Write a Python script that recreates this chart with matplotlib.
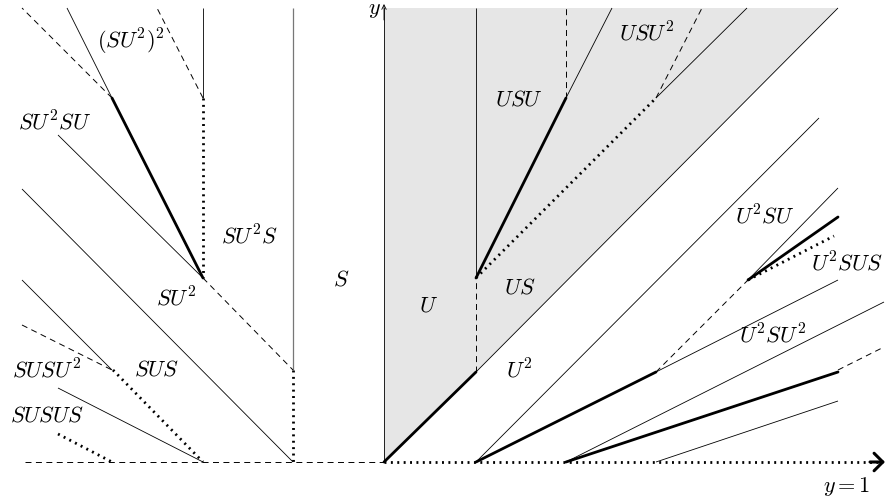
import matplotlib
matplotlib.use("Agg")
import matplotlib.pyplot as plt
from matplotlib.patches import Polygon

plt.rcParams['mathtext.fontset'] = 'cm'
plt.rcParams['lines.scale_dashes'] = False

# ---- data (diagram coordinates, pixel-like units, y downward) ----
thin_segments = [
    # right half
    ((476, 278), (476, 8)),
    ((566, 98), (612, 8)),
    ((656, 98), (747, 8)),
    ((476, 372), (838, 8)),
    ((476, 462), (819, 118)),
    ((748, 280), (838, 188)),
    ((656, 372), (838, 280)),
    ((566, 462), (884, 302)),
    ((656, 462), (838, 401)),
    # left half
    ((22, 189), (293, 462)),
    ((203, 98), (203, 8)),
    ((112, 98), (67, 8)),
    ((58, 135), (203, 278)),
    ((22, 280), (112, 370)),
    ((58, 388), (203, 462)),
]
gray_segments = [
    ((293, 370), (293, 8)),
]
thick_segments = [
    ((384, 462), (476, 372)),
    ((476, 278), (566, 98)),
    ((748, 280), (838, 217)),
    ((476, 462), (656, 372)),
    ((566, 462), (838, 372)),
    ((112, 98), (203, 278)),
]
dashed_segments = [
    ((476, 372), (476, 278)),
    ((566, 98), (566, 8)),
    ((656, 98), (702, 8)),
    ((656, 372), (748, 280)),
    ((838, 370), (884, 347)),
    ((203, 278), (293, 370)),
    ((203, 98), (157, 8)),
    ((112, 98), (22, 8)),
    ((22, 325), (112, 370)),
    ((25, 462), (384, 462)),
]
dotted_segments = [
    ((476, 278), (656, 98)),
    ((748, 280), (834, 236)),
    ((293, 370), (293, 462)),
    ((203, 98), (203, 278)),
    ((113, 370), (203, 462)),
    ((58, 434), (112, 462)),
    ((384, 462), (878, 462)),
]
shaded_region = [(384, 462), (384, 8), (838, 8), (476, 372)]

labels = [
    ("$y$", 374, 10),
    ("$U$", 429, 305),
    ("$US$", 520, 287),
    ("$U^2$", 519, 370),
    ("$USU$", 519, 99),
    ("$USU^2$", 647, 33),
    ("$U^2SU$", 765, 216),
    ("$U^2SUS$", 847, 263),
    ("$U^2SU^2$", 773, 335),
    ("$y=1$", 847, 486),
    ("$(SU^2)^2$", 131, 42),
    ("$SU^2SU$", 55, 122),
    ("$SU^2S$", 249, 236),
    ("$S$", 341, 280),
    ("$SU^2$", 176, 298),
    ("$SUS$", 157, 370),
    ("$SUSU^2$", 47, 370),
    ("$SUSUS$", 47, 416),
]

# ---- drawing ----
fig = plt.figure(figsize=(8.86, 5.04), dpi=100)
ax = fig.add_axes([0, 0, 1, 1])
ax.set_xlim(0, 886)
ax.set_ylim(504, 0)
ax.axis('off')

ax.add_patch(Polygon(shaded_region, closed=True, facecolor='#e6e6e6',
                     edgecolor='none', zorder=0))

def draw(segs, **kw):
    for (x0, y0), (x1, y1) in segs:
        ax.plot([x0, x1], [y0, y1], **kw)

draw(thin_segments, color='black', lw=0.6, solid_capstyle='butt', zorder=2)
draw(gray_segments, color='#777777', lw=0.9, solid_capstyle='butt', zorder=2)
draw(thick_segments, color='black', lw=2.0, solid_capstyle='round', zorder=3)
draw(dashed_segments, color='black', lw=0.7, linestyle=(0, (4.3, 3.2)), zorder=2)
draw(dotted_segments, color='black', lw=2.0, linestyle=(0, (1.4, 3.2)),
     dash_capstyle='butt', zorder=3)

# y axis with arrow
ax.plot([384, 384], [462, 8], color='black', lw=0.6, zorder=2)
ax.annotate('', xy=(384, 4), xytext=(384, 20),
            arrowprops=dict(arrowstyle='->', lw=0.6, color='black',
                            shrinkA=0, shrinkB=0, mutation_scale=8))
# x axis arrowhead (bold chevron)
ax.annotate('', xy=(885, 462), xytext=(870, 462),
            arrowprops=dict(arrowstyle='->,head_length=0.45,head_width=0.45',
                            lw=2.2, color='black',
                            shrinkA=0, shrinkB=0, mutation_scale=14))

for txt, x, y in labels:
    ax.text(x, y, txt, fontsize=16, ha='center', va='center', zorder=5)

fig.savefig('out.png', dpi=100)
